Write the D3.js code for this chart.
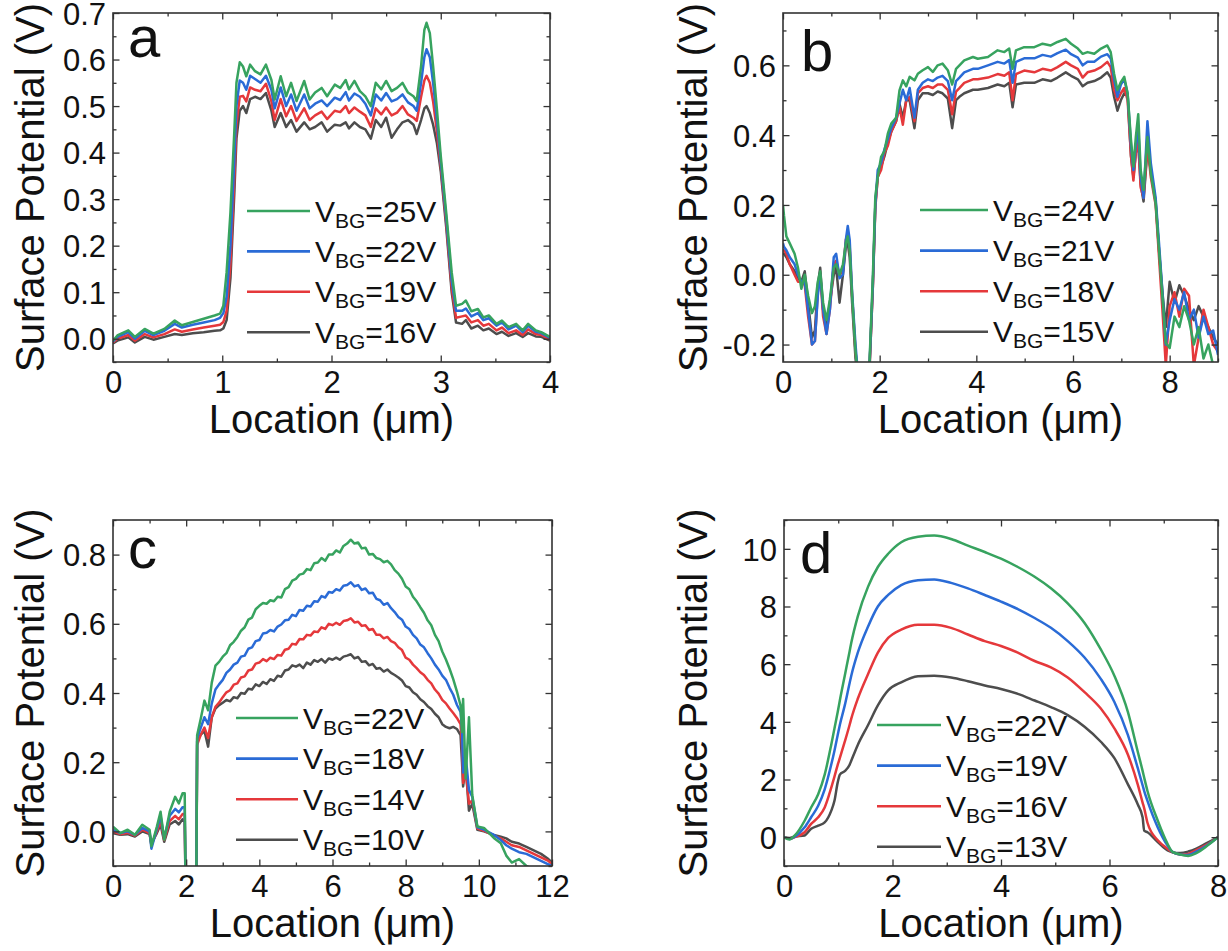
<!DOCTYPE html>
<html><head><meta charset="utf-8">
<script src="https://cdn.jsdelivr.net/npm/d3@7"></script>
<style>
body{margin:0;background:#fff}
svg{display:block}
text{font-family:"Liberation Sans",Arial,Helvetica,sans-serif;fill:#111}
</style>
</head><body>
<svg id="chart" width="1228" height="951"></svg>
<script>
// ---------------- DATA ----------------
// Panel a
const A_x = [0,0.04,0.14,0.2,0.29,0.37,0.47,0.565,0.63,0.73,
 0.83,0.93,0.98,1.01,1.04,1.075,1.11,1.13,1.16,1.19,
 1.22,1.255,1.30,1.35,1.40,1.45,1.48,1.535,1.585,1.63,
 1.68,1.75,1.80,1.85,1.91,1.96,2.03,2.08,2.13,2.16,
 2.21,2.26,2.31,2.36,2.405,2.455,2.50,2.55,2.60,2.65,
 2.70,2.75,2.78,2.82,2.85,2.87,2.90,2.93,2.965,3.00,
 3.05,3.10,3.14,3.195,3.23,3.28,3.34,3.39,3.44,3.51,
 3.56,3.62,3.69,3.75,3.80,3.87,3.92,4.0];
const A_25 = [-0.004,0.007,0.018,0.004,0.021,0.011,0.021,0.039,0.029,0.036,
 0.043,0.05,0.054,0.071,0.143,0.271,0.443,0.55,0.594,0.585,
 0.564,0.589,0.575,0.568,0.589,0.556,0.514,0.564,0.521,0.55,
 0.511,0.554,0.514,0.529,0.539,0.521,0.546,0.539,0.556,0.536,
 0.554,0.532,0.521,0.5,0.55,0.536,0.554,0.532,0.539,0.55,
 0.529,0.521,0.511,0.586,0.664,0.679,0.657,0.586,0.493,0.393,
 0.271,0.143,0.071,0.075,0.082,0.059,0.064,0.046,0.05,0.032,
 0.039,0.025,0.032,0.018,0.032,0.018,0.014,0.004];
const A_22 = [-0.006,0.004,0.014,0.0,0.017,0.008,0.017,0.032,0.024,0.03,
 0.035,0.04,0.045,0.055,0.09,0.2,0.38,0.5,0.555,0.55,
 0.535,0.565,0.558,0.55,0.565,0.535,0.495,0.54,0.5,0.525,
 0.49,0.525,0.495,0.505,0.512,0.5,0.518,0.513,0.53,0.512,
 0.527,0.52,0.505,0.48,0.525,0.512,0.528,0.51,0.515,0.525,
 0.508,0.5,0.49,0.55,0.605,0.622,0.605,0.55,0.47,0.38,
 0.26,0.125,0.06,0.06,0.065,0.048,0.055,0.04,0.044,0.028,
 0.035,0.02,0.028,0.014,0.028,0.015,0.012,0.002];
const A_19 = [-0.008,0.0,0.008,-0.004,0.01,0.003,0.01,0.02,0.015,0.02,
 0.024,0.028,0.03,0.036,0.06,0.16,0.34,0.46,0.52,0.522,
 0.51,0.54,0.535,0.532,0.548,0.51,0.47,0.515,0.478,0.5,
 0.468,0.495,0.47,0.48,0.488,0.472,0.49,0.487,0.5,0.485,
 0.497,0.488,0.48,0.455,0.495,0.482,0.497,0.48,0.486,0.5,
 0.482,0.475,0.468,0.52,0.555,0.565,0.55,0.51,0.445,0.37,
 0.25,0.11,0.045,0.048,0.05,0.035,0.04,0.028,0.032,0.018,
 0.024,0.012,0.018,0.008,0.02,0.01,0.008,-0.002];
const A_16 = [-0.01,-0.004,0.003,-0.008,0.004,-0.002,0.004,0.01,0.008,0.012,
 0.014,0.017,0.018,0.022,0.04,0.13,0.31,0.43,0.49,0.5,
 0.485,0.515,0.52,0.515,0.528,0.49,0.455,0.485,0.455,0.47,
 0.445,0.465,0.45,0.455,0.465,0.445,0.46,0.458,0.465,0.452,
 0.465,0.455,0.45,0.43,0.47,0.455,0.475,0.432,0.45,0.465,
 0.47,0.46,0.44,0.47,0.495,0.5,0.485,0.46,0.42,0.36,
 0.24,0.1,0.035,0.032,0.04,0.022,0.028,0.018,0.022,0.01,
 0.015,0.006,0.012,0.004,0.012,0.005,0.004,-0.004];
const A_labels = ["25V","22V","19V","16V"];
const A_xTicks = [0,1,2,3,4];
const A_yTicks = [0,0.1,0.2,0.3,0.4,0.5,0.6,0.7];

// Panel b
const B_x = [0,0.02,0.07,0.14,0.24,0.31,0.38,0.45,0.52,0.6,
 0.66,0.72,0.77,0.83,0.9,0.97,1.05,1.1,1.17,1.24,
 1.3,1.34,1.38,1.43,1.5,1.56,1.72,1.79,1.86,1.91,
 1.96,2.03,2.1,2.17,2.24,2.34,2.41,2.48,2.55,2.62,
 2.72,2.79,2.89,3.0,3.1,3.2,3.3,3.41,3.5,3.58,
 3.65,3.75,3.93,4.03,4.24,4.44,4.58,4.68,4.75,4.82,
 4.99,5.2,5.37,5.54,5.68,5.85,5.96,6.1,6.2,6.3,
 6.44,6.58,6.71,6.78,6.85,6.92,6.99,7.06,7.13,7.2,
 7.25,7.3,7.35,7.4,7.46,7.54,7.61,7.71,7.78,7.85,
 7.92,8.0,8.1,8.2,8.3,8.4,8.5,8.6,8.7,8.8,
 8.9,9.0];
const B_24 = [0.2,0.17,0.11,0.09,0.06,0.02,-0.04,0.0,-0.06,-0.11,
 -0.09,-0.02,0.01,-0.08,-0.13,-0.07,0.02,0.03,0.0,0.03,
 0.09,0.11,0.07,-0.06,-0.22,-0.3,-0.3,-0.25,0.0,0.224,
 0.28,0.338,0.355,0.405,0.433,0.45,0.528,0.557,0.54,0.567,
 0.557,0.576,0.586,0.595,0.581,0.6,0.605,0.586,0.545,0.59,
 0.6,0.614,0.624,0.619,0.624,0.643,0.638,0.648,0.59,0.643,
 0.652,0.652,0.662,0.657,0.667,0.676,0.662,0.648,0.633,0.638,
 0.633,0.648,0.657,0.638,0.576,0.529,0.552,0.567,0.519,0.386,
 0.31,0.395,0.46,0.3,0.243,0.395,0.29,0.205,0.071,-0.062,
 -0.195,-0.21,-0.12,-0.15,-0.09,-0.13,-0.2,-0.15,-0.24,-0.2,
 -0.26,-0.27];
const B_21 = [0.09,0.08,0.07,0.05,0.03,0.0,-0.02,-0.02,-0.1,-0.2,
 -0.19,-0.06,0.0,-0.1,-0.17,-0.1,0.05,0.06,-0.01,0.0,
 0.1,0.14,0.1,-0.05,-0.2,-0.3,-0.3,-0.26,-0.02,0.2,
 0.3,0.32,0.36,0.39,0.42,0.45,0.49,0.53,0.5,0.535,
 0.45,0.53,0.55,0.56,0.555,0.565,0.57,0.555,0.5,0.555,
 0.565,0.58,0.59,0.59,0.6,0.61,0.605,0.615,0.55,0.61,
 0.62,0.62,0.63,0.625,0.635,0.645,0.632,0.622,0.6,0.61,
 0.61,0.625,0.632,0.62,0.56,0.51,0.545,0.56,0.52,0.37,
 0.3,0.37,0.42,0.28,0.22,0.44,0.32,0.22,0.09,-0.05,
 -0.2,-0.13,-0.07,-0.1,-0.05,-0.13,-0.1,-0.18,-0.12,-0.17,
 -0.16,-0.23];
const B_18 = [0.07,0.07,0.06,0.03,0.0,-0.02,-0.02,-0.03,-0.12,-0.2,
 -0.19,-0.05,0.0,-0.12,-0.17,-0.1,0.03,0.04,0.0,0.01,
 0.1,0.12,0.08,-0.06,-0.22,-0.3,-0.3,-0.27,-0.03,0.19,
 0.28,0.3,0.35,0.37,0.41,0.44,0.48,0.43,0.5,0.51,
 0.44,0.52,0.535,0.54,0.535,0.545,0.545,0.53,0.46,0.525,
 0.535,0.55,0.56,0.56,0.565,0.575,0.57,0.58,0.5,0.575,
 0.585,0.58,0.59,0.585,0.595,0.61,0.6,0.59,0.565,0.58,
 0.585,0.595,0.61,0.595,0.53,0.5,0.52,0.535,0.5,0.34,
 0.27,0.35,0.38,0.25,0.22,0.37,0.28,0.2,0.05,-0.1,
 -0.26,-0.09,-0.05,-0.12,-0.04,-0.06,-0.26,-0.18,-0.1,-0.15,
 -0.2,-0.22];
const B_15 = [0.06,0.06,0.05,0.03,0.01,-0.01,-0.02,0.01,-0.08,-0.18,
 -0.16,-0.03,0.02,-0.1,-0.15,-0.08,0.0,0.02,-0.08,0.0,
 0.08,0.09,0.05,-0.08,-0.24,-0.3,-0.3,-0.27,-0.03,0.2,
 0.28,0.31,0.34,0.38,0.41,0.44,0.49,0.45,0.5,0.5,
 0.42,0.5,0.52,0.52,0.515,0.525,0.52,0.505,0.42,0.5,
 0.51,0.52,0.53,0.53,0.535,0.545,0.54,0.55,0.48,0.545,
 0.55,0.55,0.56,0.555,0.565,0.58,0.57,0.56,0.54,0.55,
 0.555,0.565,0.58,0.565,0.51,0.47,0.5,0.52,0.515,0.34,
 0.28,0.35,0.38,0.26,0.21,0.36,0.3,0.21,0.07,-0.05,
 -0.15,-0.02,-0.08,-0.03,-0.06,-0.1,-0.13,-0.09,-0.12,-0.15,
 -0.18,-0.2];
const B_labels = ["24V","21V","18V","15V"];
const B_xTicks = [0,2,4,6,8];
const B_yTicks = [-0.2,0,0.2,0.4,0.6];

// Panel c
const C_x = [0,0.2,0.4,0.6,0.8,1.0,1.05,1.2,1.3,1.4,
 1.55,1.7,1.8,1.9,1.96,2.0,2.27,2.3,2.4,2.5,
 2.6,2.7,
 2.8,2.9,3.0,3.1,3.2,3.3,3.4,3.5,3.6,3.7,
 3.8,3.9,4.0,4.1,4.2,4.3,4.4,4.5,4.6,4.7,
 4.8,4.9,5.0,5.1,5.2,5.3,5.4,5.5,5.6,5.7,
 5.8,5.9,6.0,6.1,6.2,6.3,6.4,6.5,6.6,6.7,
 6.8,6.9,7.0,7.1,7.2,7.3,7.4,7.5,7.6,7.7,
 7.8,7.9,8.0,8.1,8.2,8.3,8.4,8.5,8.6,8.7,
 8.8,8.9,9.0,9.1,9.2,9.3,9.4,
 9.5,9.54,9.57,9.64,9.73,9.82,
 9.96,10.14,10.41,10.6,10.75,10.9,11.1,11.3,11.5,11.7,
 11.9,12.0];
const C_22 = [0.014,-0.005,0.005,-0.01,0.019,0.005,-0.043,0.014,0.057,-0.024,
 0.057,0.1,0.081,0.11,0.11,-0.3,-0.3,0.278,0.326,0.378,
 0.35,0.43,
 0.479,0.49,0.505,0.515,0.538,0.548,0.562,0.58,0.59,0.612,
 0.618,0.642,0.652,0.66,0.658,0.668,0.665,0.678,0.676,0.7,
 0.706,0.725,0.73,0.742,0.745,0.758,0.755,0.775,0.777,0.79,
 0.782,0.8,0.8,0.812,0.806,0.825,0.832,0.843,0.832,0.835,
 0.818,0.82,0.8,0.802,0.79,0.787,0.778,0.782,0.772,0.755,
 0.745,0.73,0.708,0.7,0.678,0.665,0.648,0.632,0.61,0.596,
 0.568,0.55,0.52,0.497,0.47,0.44,0.405,
 0.364,0.287,0.383,0.153,0.33,0.105,
 0.014,0.01,-0.019,-0.034,-0.07,-0.09,-0.08,-0.1,-0.11,-0.12,
 -0.13,-0.14];
const C_18 = [0.005,-0.005,0.0,-0.01,0.01,0.0,-0.05,0.008,0.045,-0.02,
 0.045,0.065,0.055,0.07,0.07,-0.3,-0.3,0.27,0.3,0.33,
 0.31,0.37,
 0.41,0.425,0.438,0.458,0.468,0.482,0.488,0.505,0.508,0.528,
 0.532,0.55,0.553,0.572,0.574,0.582,0.578,0.592,0.598,0.61,
 0.612,0.626,0.622,0.64,0.638,0.652,0.65,0.665,0.664,0.68,
 0.676,0.692,0.69,0.7,0.696,0.71,0.712,0.72,0.708,0.712,
 0.698,0.702,0.688,0.69,0.672,0.668,0.655,0.66,0.645,0.634,
 0.62,0.612,0.592,0.585,0.568,0.558,0.54,0.532,0.515,0.5,
 0.482,0.468,0.45,0.438,0.415,0.395,0.366,
 0.345,0.3,0.17,0.22,0.12,0.1,
 0.012,0.005,-0.01,-0.025,-0.04,-0.05,-0.06,-0.065,-0.075,-0.085,
 -0.095,-0.1];
const C_14 = [0.0,-0.008,-0.004,-0.012,0.005,-0.005,-0.04,0.0,0.03,-0.025,
 0.03,0.045,0.035,0.05,0.05,-0.3,-0.3,0.25,0.28,0.3,
 0.27,0.33,
 0.36,0.372,0.388,0.402,0.408,0.424,0.428,0.445,0.448,0.465,
 0.468,0.485,0.488,0.498,0.492,0.502,0.498,0.51,0.508,0.525,
 0.528,0.542,0.54,0.556,0.555,0.568,0.566,0.578,0.576,0.59,
 0.585,0.6,0.596,0.603,0.597,0.608,0.61,0.616,0.604,0.606,
 0.594,0.596,0.582,0.585,0.568,0.568,0.558,0.562,0.55,0.545,
 0.532,0.524,0.502,0.496,0.482,0.472,0.46,0.452,0.438,0.428,
 0.41,0.398,0.38,0.37,0.355,0.342,0.328,
 0.31,0.25,0.14,0.18,0.08,0.09,
 0.008,0.002,-0.012,-0.02,-0.03,-0.04,-0.045,-0.055,-0.065,-0.075,
 -0.085,-0.095];
const C_10 = [-0.005,-0.01,-0.008,-0.015,0.0,-0.008,-0.035,-0.005,0.02,-0.03,
 0.02,0.03,0.02,0.035,0.03,-0.3,-0.3,0.26,0.28,0.29,
 0.245,0.33,
 0.355,0.365,0.372,0.38,0.376,0.388,0.385,0.4,0.398,0.412,
 0.41,0.425,0.42,0.432,0.426,0.44,0.435,0.45,0.447,0.465,
 0.468,0.48,0.476,0.482,0.472,0.488,0.482,0.495,0.49,0.498,
 0.488,0.5,0.496,0.502,0.496,0.505,0.508,0.512,0.5,0.504,
 0.49,0.492,0.48,0.484,0.47,0.472,0.462,0.468,0.458,0.452,
 0.445,0.436,0.42,0.416,0.402,0.395,0.382,0.374,0.362,0.354,
 0.34,0.33,0.31,0.302,0.298,0.302,0.296,
 0.278,0.2,0.13,0.19,0.06,0.08,
 0.005,0.0,-0.01,-0.015,-0.02,-0.03,-0.035,-0.045,-0.055,-0.065,
 -0.08,-0.09];
const C_labels = ["22V","18V","14V","10V"];
const C_xTicks = [0,2,4,6,8,10,12];
const C_yTicks = [0,0.2,0.4,0.6,0.8];

// Panel d
const D_x = [0,0.1,0.2,0.38,0.5,0.63,0.75,0.87,0.93,0.99,
 1.03,1.12,1.21,1.24,1.36,1.55,1.73,1.92,2.16,2.47,
 2.77,3.08,3.39,3.7,4.0,4.31,4.62,4.92,5.23,5.54,
 5.84,6.09,6.34,6.52,6.61,6.64,6.7,6.89,7.07,7.16,
 7.3,7.45,7.6,7.8,8.0];
const D_22 = [0.0,-0.08,0.06,0.57,1.03,1.49,2.17,3.2,3.77,4.34,
 4.75,5.6,6.45,6.74,7.66,8.69,9.37,9.83,10.23,10.42,
 10.46,10.34,10.11,9.89,9.66,9.37,9.03,8.63,8.11,7.43,
 6.51,5.6,4.34,2.97,2.3,2.06,1.6,0.57,-0.23,-0.51,
 -0.6,-0.65,-0.55,-0.3,0.0];
const D_19 = [0.0,-0.06,0.02,0.34,0.69,1.09,1.66,2.51,3.0,3.54,
 3.9,4.57,5.35,5.6,6.4,7.31,8.0,8.4,8.74,8.91,
 8.94,8.82,8.63,8.4,8.17,7.91,7.6,7.26,6.8,6.23,
 5.49,4.69,3.54,2.4,1.8,1.6,1.26,0.34,-0.29,-0.51,
 -0.6,-0.62,-0.5,-0.28,0.0];
const D_16 = [0.0,-0.05,0.0,0.17,0.46,0.69,1.03,1.71,2.1,2.51,
 2.75,3.31,3.9,4.11,4.8,5.66,6.4,6.91,7.2,7.37,
 7.37,7.26,7.03,6.8,6.63,6.4,6.11,5.89,5.54,5.03,
 4.46,3.77,2.86,1.83,1.2,1.0,0.5,-0.11,-0.4,-0.52,
 -0.6,-0.58,-0.45,-0.25,0.0];
const D_13 = [0.0,-0.03,0.02,0.06,0.29,0.4,0.51,0.91,1.26,1.9,
 2.17,2.29,2.51,2.65,3.2,3.89,4.57,5.09,5.37,5.58,
 5.6,5.54,5.41,5.26,5.14,4.97,4.74,4.51,4.23,3.83,
 3.31,2.74,1.83,1.14,0.69,0.23,0.17,-0.17,-0.46,-0.52,
 -0.55,-0.5,-0.4,-0.2,0.0];
const D_labels = ["22V","19V","16V","13V"];
const D_xTicks = [0,2,4,6,8];
const D_yTicks = [0,2,4,6,8,10];

// ---------------- STYLE / LAYOUT ----------------
const colors = ["#37a35f","#2a6bd6","#e5383b","#4d4d4d"];
const loc = d3.formatLocale({decimal:".",thousands:",",grouping:[3],currency:["",""],minus:"-"});
const fmt1 = loc.format(".1f"), fmt0 = loc.format("d");

const panels = [
 {id:"a", box:[113,550,13,362], xd:[0,4], yd:[-0.05,0.7], xs:A_x, ys:[A_25,A_22,A_19,A_16], labels:A_labels,
  xt:A_xTicks, yt:A_yTicks, xm:0.5, ym:0.05, fy:fmt1, curve:d3.curveLinear,
  leg:{x:247,y:211,dy:40.4,len:63}, letter:{x:128,y:57}, titleX:44},
 {id:"b", box:[783,1218,13,362], xd:[0,9], yd:[-0.25,0.75], xs:B_x, ys:[B_24,B_21,B_18,B_15], labels:B_labels,
  xt:B_xTicks, yt:B_yTicks, xm:1, ym:0.1, fy:fmt1, curve:d3.curveLinear,
  leg:{x:920,y:210,dy:40.6,len:68}, letter:{x:801,y:71}, titleX:707},
 {id:"c", box:[113,552,520,866], xd:[0,12], yd:[-0.1,0.9], xs:C_x, ys:[C_22,C_18,C_14,C_10], labels:C_labels,
  xt:C_xTicks, yt:C_yTicks, xm:1, ym:0.1, fy:fmt1, curve:d3.curveLinear,
  leg:{x:236,y:718,dy:40.6,len:62}, letter:{x:128,y:568}, titleX:44},
 {id:"d", box:[784,1218,520,866], xd:[0,8], yd:[-1,11], xs:D_x, ys:[D_22,D_19,D_16,D_13], labels:D_labels,
  xt:D_xTicks, yt:D_yTicks, xm:1, ym:1, fy:fmt0, curve:d3.curveMonotoneX,
  leg:{x:877,y:725,dy:40.6,len:64}, letter:{x:800,y:573}, titleX:707}
];

const svg = d3.select("#chart");
const tickFont = 31, titleFont = 40;

function minorVals(domain, step, major){
  const out = [];
  const n0 = Math.ceil(domain[0]/step - 1e-9), n1 = Math.floor(domain[1]/step + 1e-9);
  for(let i=n0;i<=n1;i++){
    const v = +(i*step).toFixed(6);
    if(!major.some(m => Math.abs(m - v) < 1e-9)) out.push(v);
  }
  return out;
}

panels.forEach(p => {
  const [L,R,T,B] = p.box;
  const x = d3.scaleLinear().domain(p.xd).range([L,R]);
  const y = d3.scaleLinear().domain(p.yd).range([B,T]);
  const g = svg.append("g").attr("class","panel-"+p.id);

  svg.append("clipPath").attr("id","clip-"+p.id)
    .append("rect").attr("x",L).attr("y",T).attr("width",R-L).attr("height",B-T);

  // lines (gray first, green on top)
  const line = d3.line().x((d,i)=>x(p.xs[i])).y(d=>y(d)).curve(p.curve);
  const lg = g.append("g").attr("clip-path","url(#clip-"+p.id+")");
  for(let k=p.ys.length-1;k>=0;k--){
    lg.append("path").datum(p.ys[k]).attr("d",line)
      .attr("fill","none").attr("stroke",colors[k]).attr("stroke-width",2.5)
      .attr("stroke-linejoin","round");
  }

  // axes
  const xMin = minorVals(p.xd, p.xm, p.xt);
  const yMin = minorVals(p.yd, p.ym, p.yt);
  const styleAxis = sel => {
    sel.select(".domain").remove();
    sel.selectAll("line").attr("stroke","#333").attr("stroke-width",1.3);
    sel.selectAll("text").attr("font-size",tickFont).attr("fill","#111")
      .attr("font-family","'Liberation Sans',Arial,sans-serif");
  };
  const maj = 6.5, mnr = 3.5;
  g.append("g").attr("transform",`translate(0,${B})`)
    .call(d3.axisBottom(x).tickValues(p.xt).tickSizeInner(-maj).tickSizeOuter(0).tickPadding(9).tickFormat(fmt0)).call(styleAxis);
  g.append("g").attr("transform",`translate(0,${B})`)
    .call(d3.axisBottom(x).tickValues(xMin).tickSizeInner(-mnr).tickSizeOuter(0).tickFormat("")).call(styleAxis);
  g.append("g").attr("transform",`translate(0,${T})`)
    .call(d3.axisTop(x).tickValues(p.xt).tickSizeInner(-maj).tickSizeOuter(0).tickFormat("")).call(styleAxis);
  g.append("g").attr("transform",`translate(0,${T})`)
    .call(d3.axisTop(x).tickValues(xMin).tickSizeInner(-mnr).tickSizeOuter(0).tickFormat("")).call(styleAxis);
  const la = g.append("g").attr("transform",`translate(${L},0)`)
    .call(d3.axisLeft(y).tickValues(p.yt).tickSizeInner(-maj).tickSizeOuter(0).tickPadding(7).tickFormat(p.fy)).call(styleAxis);
  la.selectAll("text").attr("dy","0.36em");
  g.append("g").attr("transform",`translate(${L},0)`)
    .call(d3.axisLeft(y).tickValues(yMin).tickSizeInner(-mnr).tickSizeOuter(0).tickFormat("")).call(styleAxis);
  g.append("g").attr("transform",`translate(${R},0)`)
    .call(d3.axisRight(y).tickValues(p.yt).tickSizeInner(-maj).tickSizeOuter(0).tickFormat("")).call(styleAxis);
  g.append("g").attr("transform",`translate(${R},0)`)
    .call(d3.axisRight(y).tickValues(yMin).tickSizeInner(-mnr).tickSizeOuter(0).tickFormat("")).call(styleAxis);

  // frame
  g.append("rect").attr("x",L).attr("y",T).attr("width",R-L).attr("height",B-T)
    .attr("fill","none").attr("stroke","#333").attr("stroke-width",1.6);

  // titles
  g.append("text").attr("x",(L+R)/2).attr("y",B+71).attr("text-anchor","middle")
    .attr("font-size",titleFont).text("Location (\u03bcm)");
  g.append("text").attr("transform",`translate(${p.titleX},${(T+B)/2}) rotate(-90)`)
    .attr("text-anchor","middle").attr("font-size",titleFont).text("Surface Potential (V)");

  // panel letter
  g.append("text").attr("x",p.letter.x).attr("y",p.letter.y).attr("font-size",58).text(p.id);

  // legend
  p.labels.forEach((lab,k) => {
    const yy = p.leg.y + k*p.leg.dy;
    g.append("line").attr("x1",p.leg.x).attr("x2",p.leg.x+p.leg.len).attr("y1",yy).attr("y2",yy)
      .attr("stroke",colors[k]).attr("stroke-width",2.6);
    const t = g.append("text").attr("x",p.leg.x+p.leg.len+5).attr("y",yy+10.5).attr("font-size",30);
    t.append("tspan").text("V");
    t.append("tspan").attr("font-size",21).attr("dy",6).text("BG");
    t.append("tspan").attr("dy",-6).text("=" + lab);
  });
});
</script>
</body></html>
